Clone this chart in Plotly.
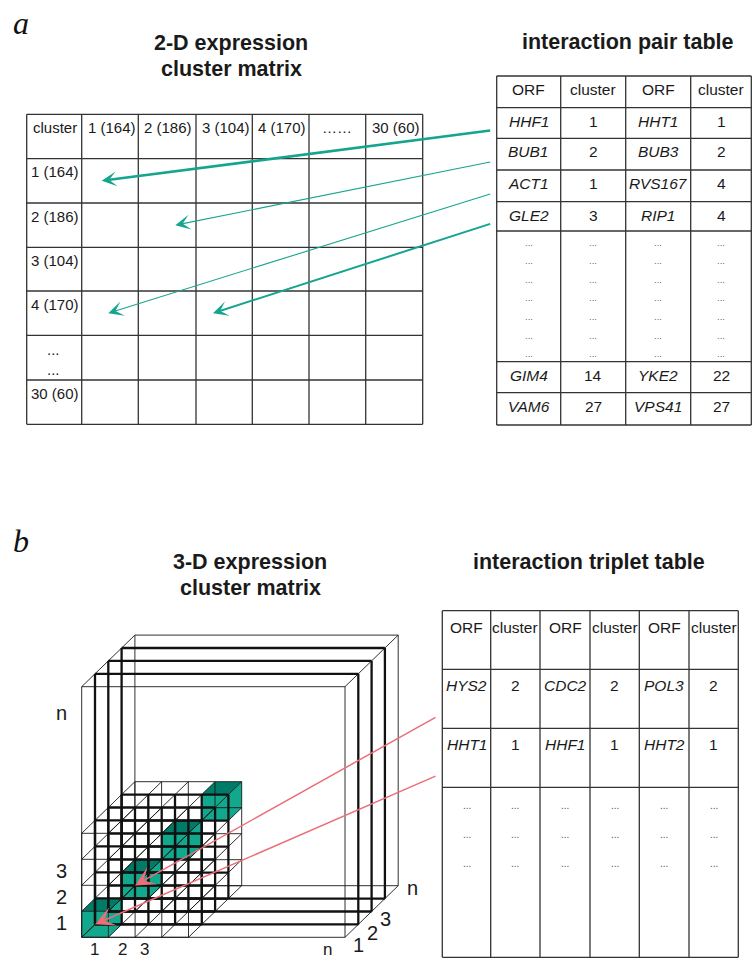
import plotly.graph_objects as go

W, H = 752, 961

# ------------------------------------------------------------------ data
matrix_col_labels = ["cluster", "1 (164)", "2 (186)", "3 (104)", "4 (170)", "……", "30 (60)"]
matrix_row_labels = ["1 (164)", "2 (186)", "3 (104)", "4 (170)", "...", "30 (60)"]

pair_header = ["ORF", "cluster", "ORF", "cluster"]
pair_orf_a = ["HHF1", "BUB1", "ACT1", "GLE2", "GIM4", "VAM6"]
pair_cluster_a = [1, 2, 1, 3, 14, 27]
pair_orf_b = ["HHT1", "BUB3", "RVS167", "RIP1", "YKE2", "VPS41"]
pair_cluster_b = [1, 2, 4, 4, 22, 27]
pair_ellipsis_lines = 7
pair_arrow_rows = [0, 1, 2, 3]

triplet_header = ["ORF", "cluster", "ORF", "cluster", "ORF", "cluster"]
triplet_orf_1 = ["HYS2", "HHT1"]
triplet_cluster_1 = [2, 1]
triplet_orf_2 = ["CDC2", "HHF1"]
triplet_cluster_2 = [2, 1]
triplet_orf_3 = ["POL3", "HHT2"]
triplet_cluster_3 = [2, 1]
triplet_ellipsis_lines = 3

cube_tick_labels = ["1", "2", "3", "n"]
diagonal_cells = [1, 2, 3, 4]
block_cells = 4
n_slabs = 4

# ------------------------------------------------------------------ style / layout constants
FONT = "Liberation Sans, Arial, Helvetica, sans-serif"
SERIF = "Liberation Serif, DejaVu Serif, serif"
LINE = "#333333"
TEAL = "#15a58e"
TEAL_DARK = "#007b68"
TEAL_LIGHT = "#12a88e"
RED = "#ea6f79"

mat_x = [26.7, 81.7, 138.3, 196, 252.3, 309, 365.7, 422.7]
mat_y = [114.3, 158.7, 203, 247.3, 291, 335.3, 380, 424.3]
pt_x = [496.7, 560.7, 625.7, 690.7, 751.3]
pt_y = [76, 107.7, 138.3, 170, 201.7, 231, 361.7, 392.7, 425]
tt_x = [442.3, 490.7, 540, 590, 639.3, 689, 738.3]
tt_y = [610.7, 669.3, 728.3, 787.3, 957.3]

arrow_tip_dx = [20, 37, 26.6, 17]
arrow_widths = [2.5, 1.1, 1.1, 2.0]

X0, Y0 = 81.7, 937.3        # front bottom-left corner of cube
FW, FH = 263.3, 250.6       # front face size of big cube
DX, DY = 13.3, -12.9        # depth step
CW, CH = 26.7, 26.0         # small cell size

fig = go.Figure()
ann = []


def add_lines(segs, width, color, dash=None):
    xs, ys = [], []
    for (x1, y1, x2, y2) in segs:
        xs += [x1, x2, None]
        ys += [y1, y2, None]
    fig.add_trace(go.Scatter(x=xs, y=ys, mode="lines",
                             line=dict(color=color, width=width, dash=dash),
                             hoverinfo="skip", showlegend=False))


def add_poly(pts, color):
    xs = [p[0] for p in pts] + [pts[0][0]]
    ys = [p[1] for p in pts] + [pts[0][1]]
    fig.add_trace(go.Scatter(x=xs, y=ys, mode="lines", fill="toself",
                             fillcolor=color, line=dict(width=0, color=color),
                             hoverinfo="skip", showlegend=False))


def text(x, y, s, size=15, xanchor="center", yanchor="middle", color="#1a1a1a",
         family=FONT):
    ann.append(dict(x=x, y=y, xref="x", yref="y", text=s, showarrow=False,
                    xanchor=xanchor, yanchor=yanchor,
                    font=dict(family=family, size=size, color=color)))


def arrow(x0, y0, x1, y1, color, width, size):
    ann.append(dict(x=x1, y=y1, ax=x0, ay=y0, xref="x", yref="y", axref="x",
                    ayref="y", text="", showarrow=True, arrowhead=3,
                    arrowwidth=width, arrowsize=size, arrowcolor=color,
                    standoff=0, startstandoff=0))


def grid(xe, ye, width=1.3, color=LINE):
    segs = []
    for x in xe:
        segs.append((x, ye[0], x, ye[-1]))
    for y in ye:
        segs.append((xe[0], y, xe[-1], y))
    add_lines(segs, width, color)


# ------------------------------------------------------------------ panel a
text(11, 23, "<i>a</i>", size=32, xanchor="left", family=SERIF, color="#111")
text(231, 43, "<b>2-D expression</b>", size=21.5)
text(231, 69, "<b>cluster matrix</b>", size=21.5)
text(628, 42, "<b>interaction pair table</b>", size=21.5)

grid(mat_x, mat_y)
for i, lab in enumerate(matrix_col_labels):
    if lab == "……":
        text((mat_x[i] + mat_x[i + 1]) / 2, mat_y[0] + 13.5, lab, size=15)
    else:
        text(mat_x[i] + 4, mat_y[0] + 13.5, lab, size=15, xanchor="left")
for j, lab in enumerate(matrix_row_labels):
    top = mat_y[j + 1]
    if lab == "...":
        text(53, top + 14, "...", size=15)
        text(53, top + 34, "...", size=15)
    else:
        text(mat_x[0] + 2.5, top + 13, lab, size=15, xanchor="left")

# pair table
grid(pt_x, pt_y)
for c, h in enumerate(pair_header):
    text((pt_x[c] + pt_x[c + 1]) / 2, pt_y[0] + 13, h, size=15.5)
data_rows = [1, 2, 3, 4, 6, 7]
for r, row in enumerate(data_rows):
    top = pt_y[row]
    yy = top + 13.5
    vals = [f"<i>{pair_orf_a[r]}</i>", str(pair_cluster_a[r]),
            f"<i>{pair_orf_b[r]}</i>", str(pair_cluster_b[r])]
    for c, v in enumerate(vals):
        text((pt_x[c] + pt_x[c + 1]) / 2, yy, v, size=15.5)
for k in range(pair_ellipsis_lines):
    yy = pt_y[5] + 14 + k * 18.6 - 3
    for c in range(4):
        text((pt_x[c] + pt_x[c + 1]) / 2, yy, "...", size=9.5, color="#666")

# arrows pair table -> matrix
for k, r in enumerate(pair_arrow_rows):
    col = pair_cluster_a[r]
    row = pair_cluster_b[r]
    tx = mat_x[col] + arrow_tip_dx[k]
    ty = (mat_y[row] + mat_y[row + 1]) / 2
    sy = pt_y[r + 1] + 0.74 * (pt_y[r + 2] - pt_y[r + 1])
    w = arrow_widths[k]
    arrow(491.7, sy, tx, ty, TEAL, w, 15 / 6 / w)

# ------------------------------------------------------------------ panel b
text(11, 541, "<i>b</i>", size=32, xanchor="left", family=SERIF, color="#111")
text(250, 562, "<b>3-D expression</b>", size=21.5)
text(250, 588, "<b>cluster matrix</b>", size=21.5)
text(589, 562, "<b>interaction triplet table</b>", size=21.5)

# big cube frames
thin, thick = [], []
for d in range(n_slabs + 1):
    ox, oy = X0 + d * DX, Y0 + d * DY
    segs = [(ox, oy, ox + FW, oy), (ox + FW, oy, ox + FW, oy - FH),
            (ox + FW, oy - FH, ox, oy - FH), (ox, oy - FH, ox, oy)]
    (thin if d in (0, n_slabs) else thick).extend(segs)
for (cx, cy) in [(0, 0), (FW, 0), (FW, -FH), (0, -FH)]:
    thin.append((X0 + cx, Y0 + cy, X0 + cx + n_slabs * DX, Y0 + cy + n_slabs * DY))

# green diagonal cells (fills first)
for k in diagonal_cells:
    d = k - 1
    fx0 = X0 + d * CW + d * DX
    fyb = Y0 - d * CH + d * DY
    fx1, fyt = fx0 + CW, fyb - CH
    bx0, bx1 = fx0 + DX, fx1 + DX
    byb, byt = fyb + DY, fyt + DY
    add_poly([(fx1, fyb), (fx1, fyt), (bx1, byt), (bx1, byb)], TEAL_LIGHT)
    add_poly([(fx0, fyt), (fx1, fyt), (bx1, byt), (bx0, byt)], TEAL_DARK)
    add_poly([(fx0, fyb), (fx1, fyb), (fx1, fyt), (fx0, fyt)], TEAL_LIGHT)

# small block wireframe
for d in range(n_slabs + 1):
    ox, oy = X0 + d * DX, Y0 + d * DY
    segs = []
    for i in range(block_cells + 1):
        segs.append((ox + i * CW, oy, ox + i * CW, oy - block_cells * CH))
        segs.append((ox, oy - i * CH, ox + block_cells * CW, oy - i * CH))
    (thin if d in (0, n_slabs) else thick).extend(segs)
    if d < n_slabs:
        for i in range(block_cells + 1):
            for j in range(block_cells + 1):
                px, py = ox + i * CW, oy - j * CH
                thin.append((px, py, px + DX, py + DY))

add_lines(thin, 0.9, "#1a1a1a")
add_lines(thick, 2.3, "#111111")

# cube tick labels
for j, lab in enumerate(cube_tick_labels[:3]):
    text(61, Y0 - j * CH - CH / 2 - 1, lab, size=20)
text(61, 713, cube_tick_labels[3], size=20)
for i, xx in enumerate([94, 122, 144]):
    text(xx, 949, cube_tick_labels[i], size=17)
text(327, 949, cube_tick_labels[3], size=17)
for (xx, yy), lab in zip([(358, 945), (372, 933), (385, 919), (412, 888)], cube_tick_labels):
    text(xx, yy, lab, size=20)

# triplet table
grid(tt_x, tt_y)
for c, h in enumerate(triplet_header):
    text((tt_x[c] + tt_x[c + 1]) / 2, tt_y[0] + 16.5, h, size=15.5)
for r in range(2):
    vals = [f"<i>{triplet_orf_1[r]}</i>", str(triplet_cluster_1[r]),
            f"<i>{triplet_orf_2[r]}</i>", str(triplet_cluster_2[r]),
            f"<i>{triplet_orf_3[r]}</i>", str(triplet_cluster_3[r])]
    for c, v in enumerate(vals):
        text((tt_x[c] + tt_x[c + 1]) / 2, tt_y[r + 1] + 16.3, v, size=15.5)
for k in range(triplet_ellipsis_lines):
    yy = tt_y[3] + 21 + k * 29 - 3
    for c in range(6):
        text((tt_x[c] + tt_x[c + 1]) / 2, yy, "...", size=10, color="#555")

# red arrows triplet table -> diagonal cells
for r in range(2):
    c = triplet_cluster_1[r]
    d = c - 1
    tx = X0 + d * CW + d * DX + CW / 2
    ty = Y0 - d * CH + d * DY - CH / 2
    sy = tt_y[r + 1] + 0.8 * (tt_y[r + 2] - tt_y[r + 1])
    arrow(437, sy, tx, ty, RED, 1.5, 2.2)

fig.update_layout(
    width=W, height=H, margin=dict(l=0, r=0, t=0, b=0),
    paper_bgcolor="white", plot_bgcolor="white",
    xaxis=dict(range=[0, W], visible=False, fixedrange=True),
    yaxis=dict(range=[H, 0], visible=False, fixedrange=True),
    annotations=ann, showlegend=False,
)

fig.write_html("out.html", config={"displayModeBar": False},
               post_script="document.body.style.margin='0';")
